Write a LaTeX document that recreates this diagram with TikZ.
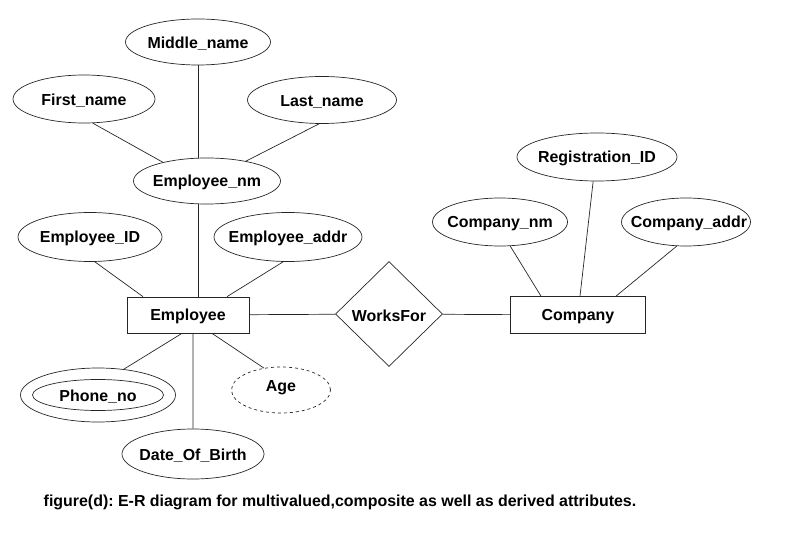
\documentclass[tikz,border=0pt]{standalone}
\usepackage{fontspec}
\setmainfont{Liberation Sans}
\usetikzlibrary{shapes.geometric, positioning}
\frenchspacing

\begin{document}
\begin{tikzpicture}[x=1bp, y=-1bp,
    font=\bfseries\fontsize{16}{18}\selectfont,
    every node/.style={line width=.7bp, draw=black!85},
    every label/.append style={yshift=-1.5bp},
    attr/.style={ellipse, inner sep=0pt},
    entity/.style={rectangle, inner sep=0pt},
    rel/.style={diamond, inner sep=0pt},
    link/.style={line width=.7bp, draw=black!85}]
    \useasboundingbox (0,0) rectangle (799,555);

    % employee side
    \node[entity, minimum width=122bp, minimum height=36bp, label=center:Employee] (emp) at (188,315) {};
    \node[attr, minimum width=147bp, minimum height=46bp, label=center:Employee\_nm] (enm) at (207,181) {};
    \node[attr, minimum width=145bp, minimum height=46bp, label=center:Middle\_name] (mid) at (198,42) {};
    \node[attr, minimum width=142bp, minimum height=48bp, label=center:First\_name] (first) at (84,99) {};
    \node[attr, minimum width=149bp, minimum height=47bp, label=center:Last\_name] (last) at (322,100) {};
    \node[attr, minimum width=144bp, minimum height=49bp, label=center:Employee\_ID] (eid) at (90,237) {};
    \node[attr, minimum width=148bp, minimum height=49bp, label=center:Employee\_addr] (eaddr) at (288,237) {};
    \node[attr, minimum width=155bp, minimum height=54bp] (phone) at (98,395) {};
    \node[attr, minimum width=131bp, minimum height=31bp, label=center:Phone\_no] (phonein) at (phone) {};
    \node[attr, dashed, minimum width=99bp, minimum height=46bp, label={[yshift=4bp]center:Age}] (age) at (281,390) {};
    \node[attr, minimum width=142bp, minimum height=50bp, label=center:Date\_Of\_Birth] (dob) at (193,454) {};

    % relationship and company side
    \node[rel, minimum width=107bp, minimum height=105bp, label=center:WorksFor] (works) at (389,314) {};
    \node[entity, minimum width=135bp, minimum height=37bp, label=center:Company] (comp) at (578,315) {};
    \node[attr, minimum width=135bp, minimum height=48bp, label=center:Company\_nm] (cnm) at (500,222) {};
    \node[attr, minimum width=160bp, minimum height=48bp, label=center:Registration\_ID] (regid) at (597,157) {};
    \node[attr, minimum width=129bp, minimum height=48bp, label={[xshift=3bp]center:Company\_addr}] (caddr) at (686,222) {};

    % connectors
    \draw[link] (mid.south) -- (mid.south |- enm.north);
    \draw[link] (first.-70) -- (enm.157);
    \draw[link] (last.-97) -- (enm.27);
    \draw[link] ([xshift=10bp]emp.north |- enm.south) -- ([xshift=10bp]emp.north);
    \draw[link] (eid.-79) -- ([xshift=-45bp]emp.north);
    \draw[link] (eaddr.-101) -- ([xshift=39bp]emp.north);
    \draw[link] ([xshift=-6bp]emp.south) -- (phone.45);
    \draw[link] ([xshift=5bp]emp.south) -- (dob.north);
    \draw[link] ([xshift=24bp]emp.south) -- (age.128);
    \draw[link] (emp) -- (works);
    \draw[link] (works) -- (comp);
    \draw[link] (cnm.-67) -- ([xshift=-37bp]comp.north);
    \draw[link] (regid.-99) -- ([xshift=2bp]comp.north);
    \draw[link] (caddr.-111) -- ([xshift=38bp]comp.north);

    % caption
    \node[draw=none, anchor=base] (caption) at (340,506)
        {figure(d): E-R diagram for multivalued,composite as well as derived attributes.};
\end{tikzpicture}
\end{document}
